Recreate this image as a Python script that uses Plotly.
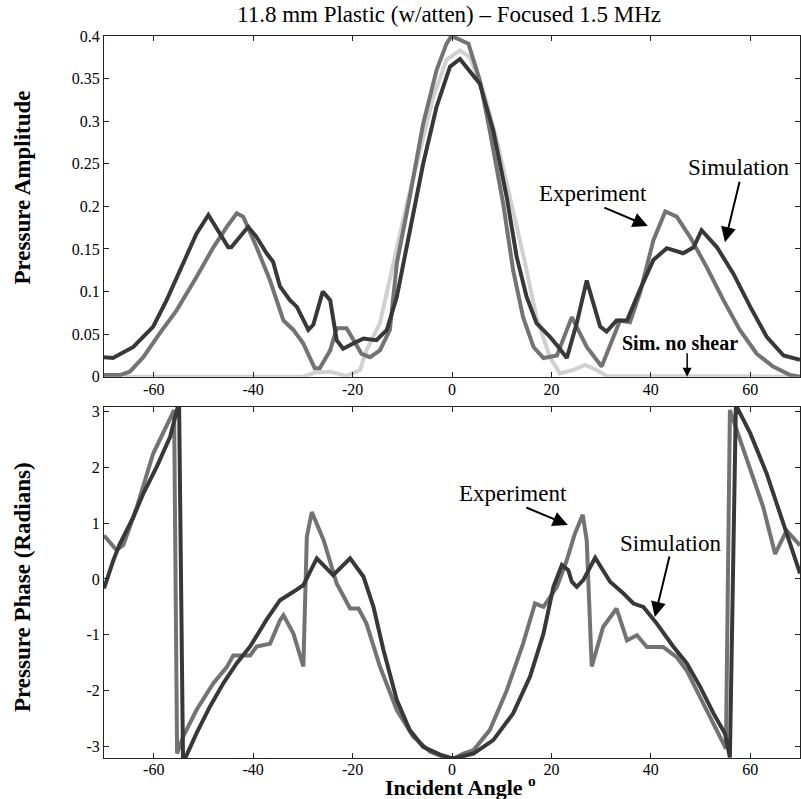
import plotly.graph_objects as go

# ---------------- data ----------------
sim_amp_angle = [-70, -68.2, -64.1, -60.1, -57.4, -54.7, -51.4, -49.0, -45.0, -44.4, -41.0, -39.3,
                 -37.3, -36.0, -34.6, -32.6, -31.2, -28.9, -27.9, -26.0, -24.5, -23.2, -21.9, -19.9,
                 -17.8, -15.2, -13.1, -11.1, -8.5, -5.8, -3.1, -0.4, 1.6, 5.6, 8.3, 11.0, 13.0, 15.0,
                 17.0, 19.7, 21.4, 23.1, 25.1, 27.1, 29.8, 31.1, 33.1, 35.2, 37.8, 40.5, 43.2, 46.5,
                 48.6, 50.2, 53.3, 56.6, 60.0, 63.3, 66.7, 70]
sim_amp = [0.023, 0.022, 0.035, 0.059, 0.09, 0.125, 0.168, 0.19, 0.152, 0.152, 0.176, 0.164,
           0.145, 0.135, 0.106, 0.09, 0.082, 0.055, 0.061, 0.1, 0.09, 0.043, 0.033, 0.039,
           0.045, 0.043, 0.055, 0.094, 0.172, 0.25, 0.317, 0.364, 0.373, 0.344, 0.289, 0.211, 0.141, 0.094,
           0.063, 0.047, 0.035, 0.022, 0.063, 0.113, 0.059, 0.053, 0.066, 0.066, 0.102, 0.137, 0.151, 0.145,
           0.152, 0.172, 0.152, 0.121, 0.082, 0.047, 0.025, 0.02]

exp_amp_angle = [-70, -66.8, -64.8, -62.1, -58.8, -55.4, -51.4, -48.0, -45.3, -43.3, -42.0, -39.3,
                 -36.6, -34.6, -33.9, -31.9, -29.9, -27.6, -26.6, -24.5, -23.2, -21.2, -19.9, -18.2,
                 -16.5, -14.5, -12.5, -11.1, -8.5, -5.8, -3.1, -1.1, -0.1, 3.3, 5.6, 7.6, 10.3, 12.3,
                 14.3, 16.4, 18.4, 21.1, 24.1, 25.8, 27.1, 30.1, 32.5, 33.8, 35.8, 37.8, 40.5, 42.9,
                 45.2, 47.9, 51.2, 54.6, 57.9, 61.3, 64.6, 68.0, 70]
exp_amp = [0.002, 0.002, 0.006, 0.023, 0.051, 0.078, 0.117, 0.152, 0.176, 0.192, 0.188, 0.152,
           0.113, 0.078, 0.066, 0.055, 0.039, 0.01, 0.01, 0.031, 0.057, 0.057, 0.043, 0.027,
           0.023, 0.031, 0.055, 0.133, 0.211, 0.297, 0.36, 0.391, 0.4, 0.391, 0.348, 0.289, 0.203, 0.125,
           0.07, 0.035, 0.022, 0.025, 0.07, 0.051, 0.035, 0.012, 0.047, 0.066, 0.064, 0.098, 0.16, 0.194,
           0.188, 0.164, 0.129, 0.09, 0.055, 0.027, 0.012, 0.002, 0.0]

noshear_angle = [-70, -30, -27.5, -24.5, -21.2, -18.5, -17.2, -14.5, -11.8, -9.1, -6.4, -3.8, -1.1,
                 1.6, 3.6, 6.3, 9.0, 11.7, 14.4, 17.0, 19.7, 21.7, 24.4, 26.8, 29.1, 31.1, 70]
noshear_amp = [0, 0, 0.005, 0.006, 0.001, 0.008, 0.031, 0.063, 0.133, 0.203, 0.266, 0.328, 0.372,
               0.383, 0.375, 0.336, 0.278, 0.211, 0.141, 0.07, 0.023, 0.004, 0.008, 0.014, 0.008, 0.001, 0.0]

sim_ph_angle = [-70, -68.1, -66.8, -64.1, -62.1, -59.4, -56.7, -55.4, -54.9, -54.1, -51.4, -48.7,
                -46.0, -43.3, -40.6, -37.3, -34.6, -31.9, -29.9, -27.2, -23.9, -20.5, -17.8, -15.8,
                -13.8, -11.1, -8.5, -5.8, -2.4, 0.3, 4.3, 8.3, 12.3, 15.7, 18.4, 20.4, 22.1, 23.4,
                24.1, 25.1, 26.4, 28.8, 31.8, 34.5, 36.5, 38.5, 41.2, 44.5, 47.2, 49.9, 52.6, 54.9,
                55.9, 57.1, 60.0, 63.3, 66.7, 70]
sim_ph = [-0.17, 0.34, 0.63, 1.11, 1.53, 2.01, 2.55, 3.03, 3.18, -3.3, -2.77, -2.29,
          -1.87, -1.51, -1.21, -0.73, -0.38, -0.23, -0.11, 0.37, 0.07, 0.37, 0.04, -0.5,
          -1.27, -2.17, -2.71, -3.01, -3.15, -3.22, -3.13, -2.89, -2.41, -1.75, -0.98, -0.14, 0.25, 0.16,
          -0.05, -0.14, -0.02, 0.38, -0.05, -0.26, -0.44, -0.5, -0.8, -1.21, -1.51, -1.93, -2.41, -2.77,
          -3.2, 3.12, 2.61, 1.89, 0.99, 0.1]

exp_ph_angle = [-70, -67.5, -66.1, -63.4, -60.1, -58.8, -56.4, -55.9, -55.3, -54.1, -51.4, -48.0,
                -45.3, -44.0, -40.6, -39.3, -36.6, -34.6, -33.9, -31.9, -29.9, -29.2, -28.2, -25.8,
                -23.2, -20.5, -18.8, -17.2, -14.5, -11.1, -7.8, -4.4, -1.7, 0.3, 2.3, 4.3, 7.6, 11.0,
                14.3, 16.7, 18.4, 21.1, 23.1, 24.7, 26.3, 27.1, 28.1, 30.4, 33.1, 35.2, 37.2, 39.2,
                42.5, 45.2, 47.2, 49.9, 52.6, 55.1, 55.9, 56.6, 60.0, 62.6, 65.0, 67.3, 70]
exp_ph = [0.78, 0.52, 0.61, 1.29, 2.25, 2.49, 2.94, 3.03, -3.13, -2.83, -2.35, -1.87,
          -1.58, -1.37, -1.37, -1.21, -1.16, -0.74, -0.65, -0.98, -1.57, 0.76, 1.2, 0.69,
          -0.08, -0.53, -0.53, -0.8, -1.57, -2.35, -2.83, -3.1, -3.19, -3.22, -3.13, -3.07, -2.71, -2.0,
          -1.16, -0.44, -0.5, -0.14, 0.34, 0.81, 1.15, 0.69, -1.57, -0.86, -0.53, -1.1, -1.01, -1.22,
          -1.22, -1.4, -1.64, -2.11, -2.59, -3.04, 3.03, 2.85, 2.01, 1.29, 0.45, 0.87, 0.6]

x_ticks = [-60, -40, -20, 0, 20, 40, 60]
x_ticklabels = ["-60", "-40", "-20", "0", "20", "40", "60"]
amp_ticks = [0, 0.05, 0.1, 0.15, 0.2, 0.25, 0.3, 0.35, 0.4]
amp_ticklabels = ["0", "0.05", "0.1", "0.15", "0.2", "0.25", "0.3", "0.35", "0.4"]
ph_ticks = [-3, -2, -1, 0, 1, 2, 3]
ph_ticklabels = ["-3", "-2", "-1", "0", "1", "2", "3"]

# ---------------- style ----------------
DARK = "#383838"
MED = "#737373"
LIGHT = "#d0d0d0"
LW = 4
SERIF = "Liberation Serif, Times New Roman, serif"

fig = go.Figure()
fig.add_trace(go.Scatter(x=noshear_angle, y=noshear_amp, mode="lines",
                         line=dict(color=LIGHT, width=LW), xaxis="x", yaxis="y"))
fig.add_trace(go.Scatter(x=exp_amp_angle, y=exp_amp, mode="lines",
                         line=dict(color=MED, width=LW), xaxis="x", yaxis="y"))
fig.add_trace(go.Scatter(x=sim_amp_angle, y=sim_amp, mode="lines",
                         line=dict(color=DARK, width=LW), xaxis="x", yaxis="y"))
fig.add_trace(go.Scatter(x=exp_ph_angle, y=exp_ph, mode="lines",
                         line=dict(color=MED, width=LW), xaxis="x2", yaxis="y2"))
fig.add_trace(go.Scatter(x=sim_ph_angle, y=sim_ph, mode="lines",
                         line=dict(color=DARK, width=LW), xaxis="x2", yaxis="y2"))

axis_common = dict(showline=True, mirror="ticks", linecolor="#222", linewidth=1,
                   ticks="inside", ticklen=5, tickcolor="#222", showgrid=False, zeroline=False,
                   tickfont=dict(family=SERIF, size=16, color="black"))

fig.update_layout(
    width=801, height=799,
    margin=dict(l=104, r=1, t=36, b=41),
    paper_bgcolor="white", plot_bgcolor="white",
    showlegend=False,
    xaxis=dict(domain=[0, 1], range=[-70, 70], anchor="y", tickvals=x_ticks,
               ticktext=x_ticklabels, ticklabelstandoff=-2, **axis_common),
    yaxis=dict(domain=[0.528, 1], range=[0, 0.4], anchor="x", tickvals=amp_ticks,
               ticktext=amp_ticklabels, **axis_common),
    xaxis2=dict(domain=[0, 1], range=[-70, 70], anchor="y2", tickvals=x_ticks,
                ticktext=x_ticklabels, ticklabelstandoff=-3, **axis_common),
    yaxis2=dict(domain=[0, 0.4866], range=[-3.21, 3.09], anchor="x2", tickvals=ph_ticks,
                ticktext=ph_ticklabels, **axis_common),
)

anns = []
# titles
anns.append(dict(text="11.8 mm Plastic (w/atten) \u2013 Focused 1.5 MHz", xref="paper", yref="paper",
                 x=(449 - 104) / 696, y=(758 - 15) / 722, xanchor="center", yanchor="middle",
                 showarrow=False, font=dict(family=SERIF, size=23, color="black")))
anns.append(dict(text="<b>Pressure Amplitude</b>", xref="paper", yref="paper", textangle=-90,
                 x=(22 - 104) / 696, y=(758 - 187.5) / 722, xanchor="center", yanchor="middle",
                 showarrow=False, font=dict(family=SERIF, size=23, color="black")))
anns.append(dict(text="<b>Pressure Phase (Radians)</b>", xref="paper", yref="paper", textangle=-90,
                 x=(22 - 104) / 696, y=(758 - 587) / 722, xanchor="center", yanchor="middle",
                 showarrow=False, font=dict(family=SERIF, size=23, color="black")))
anns.append(dict(text="<b>Incident Angle <sup>o</sup></b>", xref="paper", yref="paper",
                 x=(460 - 104) / 696, y=(758 - 786) / 722, xanchor="center", yanchor="middle",
                 showarrow=False, font=dict(family=SERIF, size=22, color="black")))

lab_font = dict(family=SERIF, size=23, color="black")
# top panel labels
anns.append(dict(text="Experiment", x=28.4, y=0.215, xref="x", yref="y", showarrow=False,
                 xanchor="center", yanchor="middle", font=lab_font))
anns.append(dict(text="Simulation", x=57.7, y=0.246, xref="x", yref="y", showarrow=False,
                 xanchor="center", yanchor="middle", font=lab_font))
anns.append(dict(text="<b>Sim. no shear</b>", x=45.9, y=0.0395, xref="x", yref="y", showarrow=False,
                 xanchor="center", yanchor="middle", font=dict(family=SERIF, size=20, color="black")))
# bottom panel labels
anns.append(dict(text="Experiment", x=12.3, y=1.54, xref="x2", yref="y2", showarrow=False,
                 xanchor="center", yanchor="middle", font=lab_font))
anns.append(dict(text="Simulation", x=43.9, y=0.64, xref="x2", yref="y2", showarrow=False,
                 xanchor="center", yanchor="middle", font=lab_font))

arrow_style = dict(showarrow=True, arrowhead=2, arrowsize=1.5, arrowwidth=2, arrowcolor="black",
                   text="", standoff=0, startstandoff=0)
anns.append(dict(x=39.4, y=0.177, xref="x", yref="y", ax=-45, ay=-19, **arrow_style))
anns.append(dict(x=54.9, y=0.158, xref="x", yref="y", ax=15, ay=-62, **arrow_style))
anns.append(dict(x=47.3, y=0.0, xref="x", yref="y", ax=0, ay=-25,
                 showarrow=True, arrowhead=2, arrowsize=1.2, arrowwidth=1.5, arrowcolor="black", text=""))
anns.append(dict(x=23.3, y=0.97, xref="x2", yref="y2", ax=-43, ay=-18, **arrow_style))
anns.append(dict(x=40.8, y=-0.68, xref="x2", yref="y2", ax=15, ay=-62, **arrow_style))

fig.update_layout(annotations=anns)
fig.write_html("out.html")
